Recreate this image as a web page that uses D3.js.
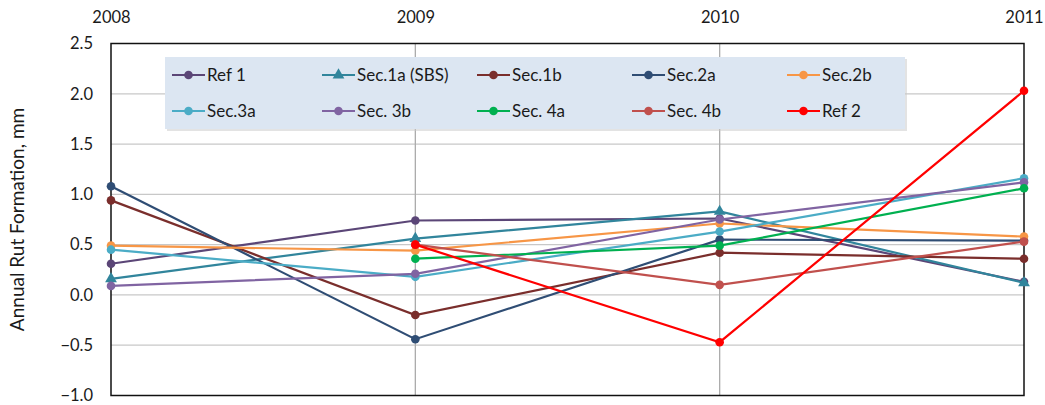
<!DOCTYPE html>
<html><head><meta charset="utf-8">
<script src="https://cdn.jsdelivr.net/npm/d3@7"></script>
<style>body{margin:0;background:#fff;} text{font-family:Lato,"Open Sans",sans-serif;fill:#1a1a1a;}</style>
</head><body>
<svg id="c" width="1045" height="405"></svg>
<script>
const years = [2008, 2009, 2010, 2011];
const yTicks = [-1.0, -0.5, 0.0, 0.5, 1.0, 1.5, 2.0, 2.5];
const seriesNames = ["Ref 1","Sec.1a (SBS)","Sec.1b","Sec.2a","Sec.2b","Sec.3a","Sec. 3b","Sec. 4a","Sec. 4b","Ref 2"];
const seriesColors = ["#5b4677","#31859c","#7a2e2c","#2f4d74","#f79646","#4bacc6","#8064a2","#00b050","#c0504d","#ff0000"];
const ref1   = [0.31, 0.74, 0.76, 0.13];
const sec1a  = [0.16, 0.56, 0.83, 0.12];
const sec1b  = [0.94, -0.20, 0.42, 0.36];
const sec2a  = [1.08, -0.44, 0.55, 0.54];
const sec2b  = [0.49, 0.44, 0.71, 0.58];
const sec3a  = [0.45, 0.18, 0.63, 1.16];
const sec3b  = [0.09, 0.21, 0.75, 1.12];
const sec4a  = [null, 0.36, 0.49, 1.06];
const sec4b  = [null, 0.50, 0.10, 0.53];
const ref2   = [null, 0.50, -0.47, 2.03];
const seriesValues = [ref1, sec1a, sec1b, sec2a, sec2b, sec3a, sec3b, sec4a, sec4b, ref2];

const svg = d3.select("#c");
const L = 111, R = 1024, T = 43.5, B = 395.5;
const x = d3.scalePoint().domain(years).range([L, R]);
const y = d3.scaleLinear().domain([-1, 2.5]).range([B, T]);

// gridlines
svg.append("g").selectAll("line").data(yTicks.slice(1, -1)).join("line")
  .attr("x1", L).attr("x2", R).attr("y1", d => y(d)).attr("y2", d => y(d))
  .attr("stroke", "#c8c8c8").attr("stroke-width", 1.3);
svg.append("g").selectAll("line").data(years.slice(1, -1)).join("line")
  .attr("x1", d => x(d)).attr("x2", d => x(d)).attr("y1", T).attr("y2", B)
  .attr("stroke", "#ababab").attr("stroke-width", 1.3);

// y axis
const yAxis = svg.append("g").attr("transform", `translate(${L},0)`)
  .call(d3.axisLeft(y).tickValues(yTicks).tickFormat(d3.format(".1f")).tickSize(0).tickPadding(18));
yAxis.select(".domain").remove();
yAxis.selectAll("text").style("font-size", "16.5px").attr("fill", "#1a1a1a");

// x axis at top
const xAxis = svg.append("g").attr("transform", `translate(0,${T})`)
  .call(d3.axisTop(x).tickSize(0).tickPadding(21));
xAxis.select(".domain").remove();
xAxis.selectAll("text").style("font-size", "16.5px").attr("fill", "#1a1a1a");

// border
svg.append("rect").attr("x", L).attr("y", T).attr("width", R - L).attr("height", B - T)
  .attr("fill", "none").attr("stroke", "#111").attr("stroke-width", 1.5);

// y title
svg.append("text").attr("transform", `translate(24,${(T + B) / 2}) rotate(-90)`)
  .attr("text-anchor", "middle").style("font-size", "19px").text("Annual Rut Formation, mm");

// lines
const line = d3.line().defined(d => d.v !== null).x(d => x(d.yr)).y(d => y(d.v));
const data = seriesNames.map((n, i) => ({name: n, color: seriesColors[i],
  pts: years.map((yr, j) => ({yr, v: seriesValues[i][j]}))}));

function marker(g, cx, cy, color, tri) {
  if (tri) {
    g.append("path").attr("d", d3.symbol(d3.symbolTriangle, 60)())
      .attr("transform", `translate(${cx},${cy})`).attr("fill", color);
  } else {
    g.append("circle").attr("cx", cx).attr("cy", cy).attr("r", 4.3).attr("fill", color);
  }
}

data.forEach((s, i) => {
  const g = svg.append("g");
  g.append("path").attr("d", line(s.pts)).attr("fill", "none")
    .attr("stroke", s.color).attr("stroke-width", 2.2);
  s.pts.filter(p => p.v !== null).forEach(p => marker(g, x(p.yr), y(p.v), s.color, i === 1));
});

// legend
const lg = svg.append("g");
lg.append("rect").attr("x", 167).attr("y", 59).attr("width", 740).attr("height", 72).attr("fill", "#c8c8c8").attr("opacity", 0.5);
lg.append("rect").attr("x", 165).attr("y", 57).attr("width", 740).attr("height", 72).attr("fill", "#dce6f2");
const colX = [172, 322, 477, 632, 787];
const rowY = [75, 111];
data.forEach((s, i) => {
  const cx = colX[i % 5], cy = rowY[Math.floor(i / 5)];
  lg.append("line").attr("x1", cx).attr("x2", cx + 33).attr("y1", cy).attr("y2", cy)
    .attr("stroke", s.color).attr("stroke-width", 2.2);
  marker(lg, cx + 16.5, cy, s.color, i === 1);
  lg.append("text").attr("x", cx + 35).attr("y", cy).attr("dy", "0.36em")
    .style("font-size", "17px").text(s.name);
});
</script>
</body></html>
